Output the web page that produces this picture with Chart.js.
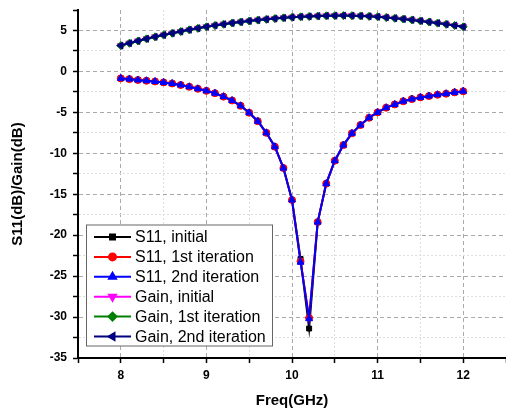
<!DOCTYPE html>
<html>
<head>
<meta charset="utf-8">
<script src="https://cdn.jsdelivr.net/npm/chart.js@4"></script>
<style>
    html, body { margin: 0; padding: 0; background: #fff; }
    #wrap { width: 506px; height: 410px; }
</style>
</head>
<body>
<div id="wrap"><canvas id="chartS11"></canvas></div>
<script>
// frequency points, GHz
const freq = [8.0, 8.1, 8.2, 8.3, 8.4, 8.5, 8.6, 8.7, 8.8, 8.9,
    9.0, 9.1, 9.2, 9.3, 9.4, 9.5, 9.6, 9.7, 9.8, 9.9,
    10.0, 10.1, 10.2, 10.3, 10.4, 10.5, 10.6, 10.7, 10.8, 10.9,
    11.0, 11.1, 11.2, 11.3, 11.4, 11.5, 11.6, 11.7, 11.8, 11.9, 12.0];

const s11Initial = [-0.85, -0.94, -1.05, -1.14, -1.23, -1.34, -1.47, -1.66, -1.88, -2.12,
    -2.37, -2.66, -3.08, -3.55, -4.2, -5.05, -6.08, -7.5, -9.2, -11.8,
    -15.7, -22.9, -31.4, -18.4, -13.7, -10.9, -9.0, -7.56, -6.55, -5.66,
    -5.0, -4.43, -4.03, -3.64, -3.38, -3.17, -3.01, -2.85, -2.72, -2.56, -2.42];
const s11First = [-0.85, -0.94, -1.05, -1.14, -1.23, -1.34, -1.47, -1.66, -1.88, -2.12,
    -2.37, -2.66, -3.08, -3.55, -4.2, -5.05, -6.08, -7.5, -9.2, -11.8,
    -15.7, -23.2, -30.1, -18.4, -13.7, -10.9, -9.0, -7.56, -6.55, -5.66,
    -5.0, -4.43, -4.03, -3.64, -3.38, -3.17, -3.01, -2.85, -2.72, -2.56, -2.42];
const s11Second = [-0.85, -0.94, -1.05, -1.14, -1.23, -1.34, -1.47, -1.66, -1.88, -2.12,
    -2.37, -2.66, -3.08, -3.55, -4.2, -5.05, -6.08, -7.5, -9.2, -11.8,
    -15.7, -23.3, -30.2, -18.4, -13.7, -10.9, -9.0, -7.56, -6.55, -5.66,
    -5.0, -4.43, -4.03, -3.64, -3.38, -3.17, -3.01, -2.85, -2.72, -2.56, -2.42];

const gainInitial = [3.15, 3.45, 3.72, 3.98, 4.22, 4.45, 4.67, 4.88, 5.08, 5.27,
    5.45, 5.62, 5.77, 5.91, 6.04, 6.16, 6.27, 6.37, 6.46, 6.54,
    6.61, 6.67, 6.72, 6.76, 6.79, 6.81, 6.82, 6.81, 6.78, 6.73,
    6.67, 6.59, 6.5, 6.4, 6.29, 6.17, 6.04, 5.9, 5.76, 5.61, 5.45];
const gainFirst = [3.15, 3.45, 3.72, 3.98, 4.22, 4.45, 4.67, 4.88, 5.08, 5.27,
    5.45, 5.62, 5.77, 5.91, 6.04, 6.16, 6.27, 6.37, 6.46, 6.54,
    6.61, 6.67, 6.72, 6.76, 6.79, 6.81, 6.82, 6.81, 6.78, 6.73,
    6.67, 6.59, 6.5, 6.4, 6.29, 6.17, 6.04, 5.9, 5.76, 5.61, 5.45];
const gainSecond = [3.15, 3.45, 3.72, 3.98, 4.22, 4.45, 4.67, 4.88, 5.08, 5.27,
    5.45, 5.62, 5.77, 5.91, 6.04, 6.16, 6.27, 6.37, 6.46, 6.54,
    6.61, 6.67, 6.72, 6.76, 6.79, 6.81, 6.82, 6.81, 6.78, 6.73,
    6.67, 6.59, 6.5, 6.4, 6.29, 6.17, 6.04, 5.9, 5.76, 5.61, 5.45];

const seriesLabels = ["S11, initial", "S11, 1st iteration", "S11, 2nd iteration",
    "Gain, initial", "Gain, 1st iteration", "Gain, 2nd iteration"];
const seriesValues = [s11Initial, s11First, s11Second, gainInitial, gainFirst, gainSecond];
const seriesColors = ["#000000", "#ff0000", "#0000ff", "#ff00ff", "#008000", "#000080"];
const seriesMarkers = ["rect", "circle", "triangle", "triangle", "rectRot", "triangle"];
const markerRotation = [0, 0, 0, 180, 0, 270];
const markerRadius = [3.5, 3.5, 4, 4, 4, 4];

const FONT = "'Liberation Sans', Arial, sans-serif";

const isMajor = (v, step) => Math.abs(v / step - Math.round(v / step)) < 1e-6;

// legend drawn inside the plot, like the original
const insideLegend = {
    id: "insideLegend",
    afterDraw(chart) {
        const ctx = chart.ctx;
        const bx = 86, by = 224.5, bw = 186, bh = 121;
        ctx.save();
        ctx.fillStyle = "#fff";
        ctx.fillRect(bx, by, bw, bh);
        ctx.strokeStyle = "#666";
        ctx.lineWidth = 1;
        ctx.strokeRect(bx + 0.5, by + 0.5, bw, bh);
        chart.data.datasets.forEach((ds, i) => {
            const y = by + 12.5 + i * 19.9;
            ctx.strokeStyle = ds.borderColor;
            ctx.lineWidth = 2;
            ctx.beginPath();
            ctx.moveTo(94, y);
            ctx.lineTo(131, y);
            ctx.stroke();
            ctx.fillStyle = ds.borderColor;
            Chart.helpers.drawPoint(ctx, {
                pointStyle: ds.pointStyle,
                rotation: ds.pointRotation,
                radius: ds.pointRadius,
                borderWidth: 1
            }, 112.5, y);
            ctx.fillStyle = "#000";
            ctx.font = "16px " + FONT;
            ctx.textBaseline = "middle";
            ctx.textAlign = "left";
            ctx.fillText(ds.label, 135, y + 1);
        });
        ctx.restore();
    }
};

const datasets = seriesLabels.map((label, i) => ({
    label: label,
    data: freq.map((f, j) => ({ x: f, y: seriesValues[i][j] })),
    borderColor: seriesColors[i],
    backgroundColor: seriesColors[i],
    borderWidth: 2,
    pointStyle: seriesMarkers[i],
    pointRotation: markerRotation[i],
    pointRadius: markerRadius[i],
    pointBorderWidth: 1,
    order: seriesLabels.length - i,   // later series on top
    tension: 0
}));

new Chart(document.getElementById("chartS11"), {
    type: "line",
    data: { datasets: datasets },
    options: {
        responsive: true,
        maintainAspectRatio: false,
        animation: false,
        layout: { autoPadding: false, padding: { top: 10, right: 0, left: 9, bottom: 0 } },
        plugins: {
            legend: { display: false },
            tooltip: { enabled: false }
        },
        scales: {
            x: {
                type: "linear",
                min: 7.5,
                max: 12.5,
                afterFit: (s) => {
                    s.height = 52;
                    s.paddingLeft = 0;
                    s.paddingRight = 0;
                },
                ticks: {
                    stepSize: 0.5,
                    padding: 5,
                    color: "#000",
                    font: { family: FONT, size: 12, weight: "bold" },
                    callback: (v) => (isMajor(v, 1) && v > 7.5 && v < 12.5) ? String(v) : ""
                },
                grid: {
                    tickLength: 5,
                    tickColor: "#000",
                    tickWidth: 1.5,
                    tickBorderDash: [],
                    lineWidth: 1,
                    color: (c) => {
                        const v = c.tick ? c.tick.value : 0;
                        if (v <= 7.5 || v >= 12.5) return "rgba(0,0,0,0)";
                        return isMajor(v, 1) ? "#aaaaaa" : "#dddddd";
                    }
                },
                border: {
                    color: "#000",
                    width: 2,
                    dash: (c) => (c.tick && isMajor(c.tick.value, 1)) ? [4, 3] : [2, 2]
                },
                title: {
                    display: true,
                    text: "Freq(GHz)",
                    color: "#000",
                    padding: { top: 4, bottom: 0 },
                    font: { family: FONT, size: 15, weight: "bold" }
                }
            },
            y: {
                min: -35,
                max: 7.5,
                afterFit: (s) => {
                    s.width = 69;
                    s.paddingTop = 0;
                    s.paddingBottom = 0;
                },
                ticks: {
                    stepSize: 2.5,
                    padding: 6,
                    color: "#000",
                    font: { family: FONT, size: 12, weight: "bold" },
                    callback: (v) => (isMajor(v, 5) && v < 7.5) ? String(v) : ""
                },
                grid: {
                    tickLength: 5,
                    tickColor: "#000",
                    tickWidth: 1.5,
                    tickBorderDash: [],
                    lineWidth: 1,
                    color: (c) => {
                        const v = c.tick ? c.tick.value : 0;
                        if (v <= -35 || v >= 7.5) return "rgba(0,0,0,0)";
                        return isMajor(v, 5) ? "#aaaaaa" : "#dddddd";
                    }
                },
                border: {
                    color: "#000",
                    width: 2,
                    dash: (c) => (c.tick && isMajor(c.tick.value, 5)) ? [4, 3] : [2, 2]
                },
                title: {
                    display: true,
                    text: "S11(dB)/Gain(dB)",
                    color: "#000",
                    padding: { top: 0, bottom: 4 },
                    font: { family: FONT, size: 15, weight: "bold" }
                }
            }
        }
    },
    plugins: [insideLegend]
});
</script>
</body>
</html>
